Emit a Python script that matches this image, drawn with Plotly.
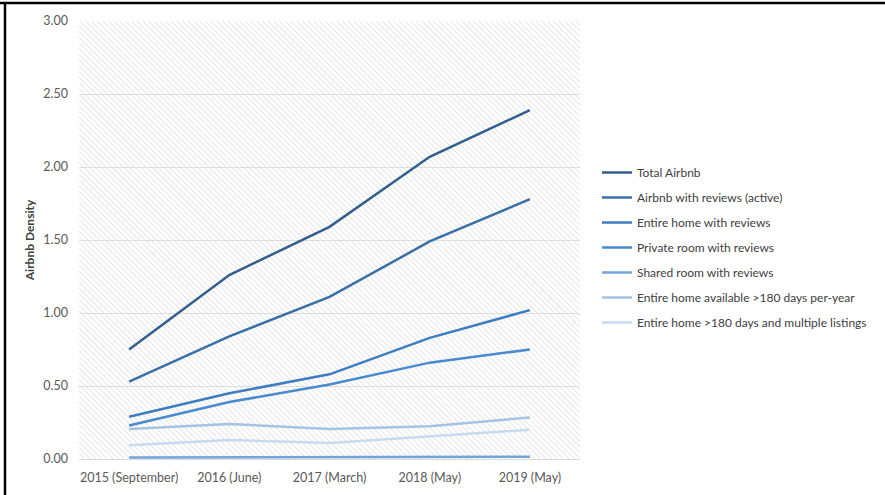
import plotly.graph_objects as go

categories = ["2015 (September)", "2016 (June)", "2017 (March)", "2018 (May)", "2019 (May)"]

total_airbnb = [0.75, 1.26, 1.59, 2.07, 2.39]
with_reviews = [0.53, 0.84, 1.11, 1.49, 1.78]
entire_home_reviews = [0.29, 0.45, 0.58, 0.83, 1.02]
private_room_reviews = [0.23, 0.39, 0.51, 0.66, 0.75]
shared_room_reviews = [0.01, 0.01, 0.015, 0.015, 0.015]
entire_home_180 = [0.205, 0.24, 0.205, 0.225, 0.285]
entire_home_180_multi = [0.095, 0.13, 0.11, 0.155, 0.20]

series_names = [
    "Total Airbnb",
    "Airbnb with reviews (active)",
    "Entire home with reviews",
    "Private room with reviews",
    "Shared room with reviews",
    "Entire home available >180 days per-year",
    "Entire home >180 days and multiple listings",
]
series_values = [total_airbnb, with_reviews, entire_home_reviews, private_room_reviews,
                 shared_room_reviews, entire_home_180, entire_home_180_multi]
series_colors = ["#335f8e", "#3a6fa8", "#3f7dc2", "#4a8ad0", "#72a3da", "#a5c3e7", "#c7daf0"]

y_ticks = [0, 0.5, 1.0, 1.5, 2.0, 2.5, 3.0]
y_ticktext = ["0.00", "0.50", "1.00", "1.50", "2.00", "2.50", "3.00"]

W, H = 885, 495
L, R, T, B = 79, 580, 21, 459
pw, ph = R - L, B - T

fig = go.Figure()
for i, (name, vals, col) in enumerate(zip(series_names, series_values, series_colors)):
    fig.add_trace(go.Scatter(
        x=categories, y=vals, name=name, mode="lines",
        line=dict(color=col, width=2.5),
        legendgroup=f"g{i}",
    ))

# hatch background (decoration) as shapes below gridlines
shapes = []
step = 5.7
c = -ph
while c < pw:
    y0 = max(0.0, -c)
    y1 = min(float(ph), pw - c)
    if y1 > y0:
        x0 = y0 + c
        x1 = y1 + c
        shapes.append(dict(
            type="line", xref="paper", yref="paper", layer="below",
            x0=x0 / pw, y0=1 - y0 / ph, x1=x1 / pw, y1=1 - y1 / ph,
            line=dict(color="#dedede", width=1),
        ))
    c += step

# outer frame (top and left)
shapes.append(dict(type="line", xref="paper", yref="paper",
                   x0=(0 - L) / pw, x1=(W - L) / pw,
                   y0=(B - 3) / ph, y1=(B - 3) / ph,
                   line=dict(color="black", width=2.5)))
shapes.append(dict(type="line", xref="paper", yref="paper",
                   x0=(5 - L) / pw, x1=(5 - L) / pw,
                   y0=(B - 2) / ph, y1=(B - H) / ph,
                   line=dict(color="black", width=2.5)))

fig.update_layout(
    width=W, height=H,
    margin=dict(l=L, r=W - R, t=T, b=H - B, pad=0, autoexpand=False),
    paper_bgcolor="white",
    plot_bgcolor="white",
    font=dict(family="Lato, 'Open Sans', sans-serif", size=12, color="#595959"),
    shapes=shapes,
    showlegend=True,
    legend=dict(
        x=(597 - L) / pw, y=(B - 158) / ph, xanchor="left", yanchor="top",
        font=dict(size=12, color="#404040"),
        tracegroupgap=6,
        bgcolor="rgba(0,0,0,0)",
    ),
    xaxis=dict(
        type="category",
        showgrid=False,
        showline=True, linecolor="#d9d9d9", linewidth=1,
        ticks="",
        ticklabelstandoff=7,
        tickfont=dict(size=12.5, color="#595959"),
        range=[-0.5, 4.5],
        fixedrange=True,
    ),
    yaxis=dict(
        range=[0, 3.0],
        tickvals=y_ticks, ticktext=y_ticktext,
        showgrid=True, gridcolor="#dedede", gridwidth=1,
        zeroline=False,
        showline=False,
        ticks="",
        ticklabelstandoff=10,
        tickfont=dict(size=12.5, color="#595959"),
        title=dict(text="<b>Airbnb Density</b>", font=dict(size=12, color="#404040"), standoff=6),
        fixedrange=True,
    ),
)

fig.write_html("out.html")
